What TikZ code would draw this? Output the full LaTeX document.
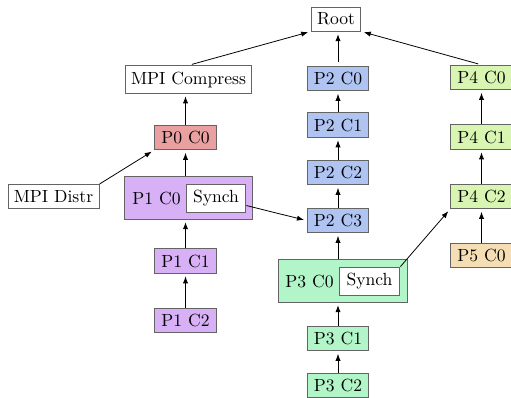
\documentclass[tikz,border=0pt]{standalone}
\usetikzlibrary{arrows.meta}
\definecolor{cPzero}{RGB}{234,160,160}
\definecolor{cPone}{RGB}{216,176,245}
\definecolor{cPtwo}{RGB}{176,196,242}
\definecolor{cPthree}{RGB}{178,245,200}
\definecolor{cPfour}{RGB}{216,245,178}
\definecolor{cPfive}{RGB}{245,222,180}
\definecolor{bordergray}{RGB}{100,100,100}
\begin{document}
\begin{tikzpicture}[x=0.5682pt,y=-0.5682pt,
  box/.style={draw=bordergray, line width=0.55pt, fill=white, inner sep=3.3pt, minimum height=13.6pt},
  pbox/.style={box, minimum width=35.2pt},
  plain/.style={inner sep=0pt},
  arr/.style={-{Latex[length=4pt,width=3pt]}, line width=0.45pt, shorten >=1.5pt}]
\useasboundingbox (0,0) rectangle (511,397);
\clip (0,0) rectangle (511,397);
% top
\node[box] (root) at (336,19) {Root};
\node[box] (mpic) at (188.5,79.5) {MPI Compress};
\node[pbox,fill=cPtwo] (p2c0) at (338,78.5) {P2 C0};
\node[pbox,fill=cPfour] (p4c0) at (481.5,77.5) {P4 C0};
\node[pbox,fill=cPzero] (p0c0) at (185.5,137.5) {P0 C0};
\node[pbox,fill=cPtwo] (p2c1) at (338,125) {P2 C1};
\node[pbox,fill=cPfour] (p4c1) at (481.5,137) {P4 C1};
\node[pbox,fill=cPtwo] (p2c2) at (338,172.5) {P2 C2};
\node[box] (mpid) at (53.5,196.5) {MPI Distr};
% P1 C0 group
\node[box,fill=cPone,minimum width=72.2pt,minimum height=23.9pt] (p1c0) at (188.5,198) {};
\node[plain] (p1c0t) at (156.5,198) {P1 C0};
\node[box,minimum width=34pt,minimum height=15.9pt] (s1) at (216,198) {Synch};
\node[pbox,fill=cPfour] (p4c2) at (481.5,196.5) {P4 C2};
\node[pbox,fill=cPtwo] (p2c3) at (338,220.5) {P2 C3};
\node[pbox,fill=cPfive] (p5c0) at (481.5,255.5) {P5 C0};
\node[pbox,fill=cPone] (p1c1) at (185.5,261) {P1 C1};
% P3 C0 group
\node[box,fill=cPthree,minimum width=73.3pt,minimum height=23.9pt] (p3c0) at (342.5,281) {};
\node[plain] (p3c0t) at (309.5,281) {P3 C0};
\node[box,minimum width=34.6pt,minimum height=16.4pt] (s2) at (369.5,281.5) {Synch};
\node[pbox,fill=cPone] (p1c2) at (185.5,320.5) {P1 C2};
\node[pbox,fill=cPthree] (p3c1) at (338,338.5) {P3 C1};
\node[pbox,fill=cPthree] (p3c2) at (338,385.5) {P3 C2};
% edges
\draw[arr,shorten <=2pt] (mpic.north) -- (root.south west);
\draw[arr,shorten <=2pt] (p2c0.north) -- (p2c0.north |- root.south);
\draw[arr,shorten <=2pt] (p4c0.north) -- (root.south east);
\draw[arr] (p0c0.north) -- (p0c0.north |- mpic.south);
\draw[arr] (p2c1) -- (p2c0);
\draw[arr] (p2c2) -- (p2c1);
\draw[arr] (p2c3) -- (p2c2);
\draw[arr] (p4c1) -- (p4c0);
\draw[arr] (p4c2) -- (p4c1);
\draw[arr] (p5c0) -- (p4c2);
\draw[arr] (mpid.north east) -- (p0c0.south west);
\draw[arr] (p1c0.north -| p0c0) -- (p0c0.south);
\draw[arr] (p1c1.north) -- (p1c1.north |- p1c0.south);
\draw[arr] (p1c2) -- (p1c1);
\draw[arr] (s1) -- (p2c3.west);
\draw[arr] (p3c0.north -| p2c3) -- (p2c3.south);
\draw[arr] (p3c1.north) -- (p3c1.north |- p3c0.south);
\draw[arr] (p3c2) -- (p3c1);
\draw[arr] (s2.north east) -- (p4c2.south west);
\end{tikzpicture}
\end{document}
